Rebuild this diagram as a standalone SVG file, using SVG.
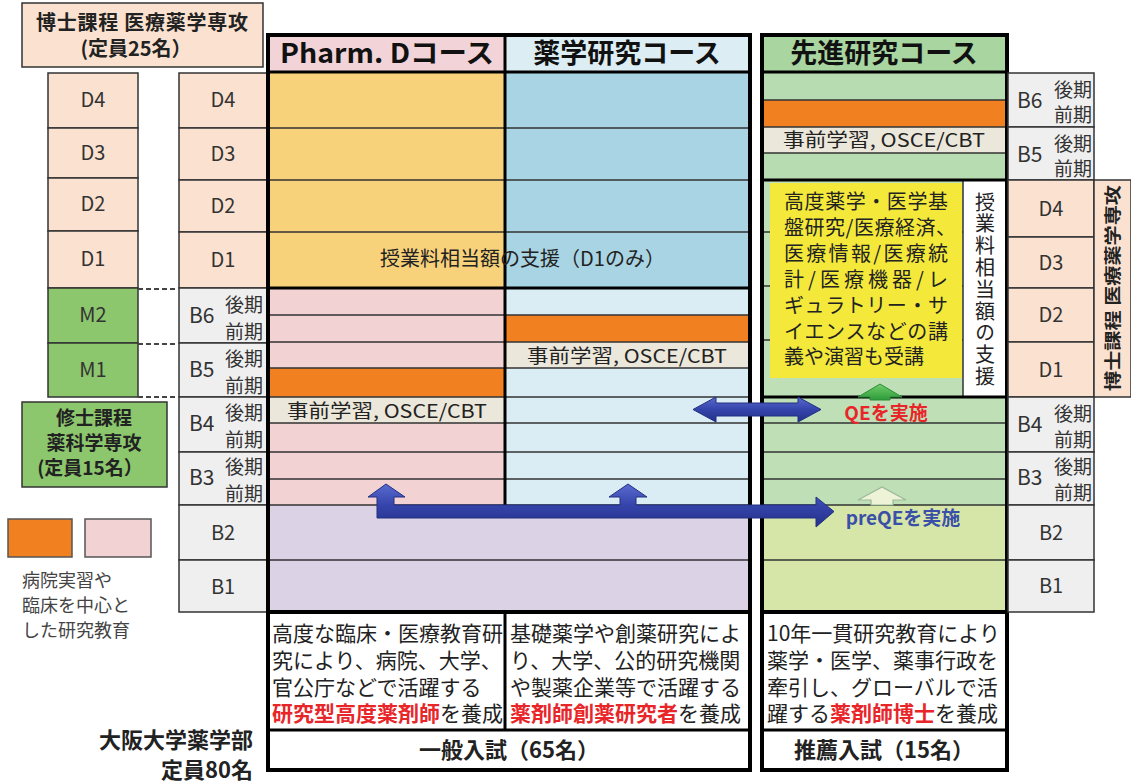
<svg xmlns="http://www.w3.org/2000/svg" width="1131" height="782" viewBox="0 0 1131 782">
<defs>
<style>
text{font-family:"Noto Sans CJK JP","Noto Sans",sans-serif;fill:#222}
.lbl{font-size:20px;fill:#333;text-anchor:middle}
.half{font-size:19px;fill:#333;text-anchor:end}
.bl{font-size:21px;fill:#333}
.hd{font-size:27px;font-weight:bold;text-anchor:middle;fill:#111}
.c{stroke:#333;stroke-width:1.5}
.ln{stroke:#333;stroke-width:1.5;fill:none}
.thick{stroke:#000;stroke-width:4;fill:none}
.mid{stroke:#000;stroke-width:3;fill:none}
.peach{fill:#fbe2d0}
.gray{fill:#efefef}
.grn{fill:#8cc66d}
.or{fill:#f08020}
.beige{fill:#ebe7da}
.pink{fill:#f2d2d2}
.lblue{fill:#dbedf4}
.gold{fill:#f8d27b}
.blue{fill:#a9d4e3}
.lav{fill:#dcd2e6}
.g1{fill:#b8dcb1}
.g2{fill:#bfe0b7}
.yg{fill:#d6e6a8}
.desc{font-size:21px;fill:#222}
.red{fill:#e8262a;font-weight:bold}
.osce{font-size:19px;fill:#222;text-anchor:middle}
.leg{font-size:18px;fill:#444}
.qe{font-size:19px;font-weight:bold;text-anchor:middle;fill:#e8262a}
.pqe{font-size:19px;font-weight:bold;text-anchor:middle;fill:#3a4fa8}
</style>
<linearGradient id="bg" x1="0" y1="0" x2="0" y2="1">
<stop offset="0" stop-color="#5a6bd0"/>
<stop offset="0.5" stop-color="#3444aa"/>
<stop offset="1" stop-color="#24318a"/>
</linearGradient>
<linearGradient id="gg" x1="0" y1="0" x2="0" y2="1">
<stop offset="0" stop-color="#6fd06a"/>
<stop offset="1" stop-color="#2e9a3a"/>
</linearGradient>
</defs>
<rect width="1131" height="782" fill="#fff"/>

<!-- top-left doctoral label -->
<g id="doctor-label">
<rect x="22" y="3" width="241" height="64" class="peach c"/>
<text x="142" y="30" text-anchor="middle" font-size="20" font-weight="bold" textLength="212" lengthAdjust="spacing">博士課程 医療薬学専攻</text>
<text x="136" y="56" text-anchor="middle" font-size="20" font-weight="bold">(定員25名）</text>
</g>

<!-- left column D/M -->
<g id="left-col">
<rect x="48" y="73" width="90" height="55" class="peach c"/>
<rect x="48" y="128" width="90" height="50" class="peach c"/>
<rect x="48" y="178" width="90" height="53" class="peach c"/>
<rect x="48" y="231" width="90" height="57" class="peach c"/>
<rect x="48" y="288" width="90" height="55" class="grn c"/>
<rect x="48" y="343" width="90" height="54" class="grn c"/>
<text x="93" y="107" class="lbl">D4</text>
<text x="93" y="160" class="lbl">D3</text>
<text x="93" y="211" class="lbl">D2</text>
<text x="93" y="266" class="lbl">D1</text>
<text x="93" y="322" class="lbl">M2</text>
<text x="93" y="377" class="lbl">M1</text>
</g>

<g id="dashes">
<path d="M138,289 H178 M138,344 H178 M138,397 H178" stroke="#444" stroke-width="2" stroke-dasharray="5,3" fill="none"/>
</g>

<g id="master-label">
<rect x="22" y="402" width="145" height="85" class="grn c"/>
<text x="94" y="425" text-anchor="middle" font-size="19" font-weight="bold">修士課程</text>
<text x="94" y="450" text-anchor="middle" font-size="19" font-weight="bold">薬科学専攻</text>
<text x="90" y="475" text-anchor="middle" font-size="19" font-weight="bold">(定員15名）</text>
</g>

<g id="legend">
<rect x="8" y="519" width="64" height="38" class="or" stroke="#555" stroke-width="1.5"/>
<rect x="85" y="519" width="66" height="38" class="pink" stroke="#555" stroke-width="1.5"/>
<text x="22" y="587" class="leg">病院実習や</text>
<text x="22" y="612" class="leg">臨床を中心と</text>
<text x="22" y="637" class="leg">した研究教育</text>
</g>

<g id="faculty-label">
<text x="253" y="748" text-anchor="end" font-size="22" font-weight="bold">大阪大学薬学部</text>
<text x="253" y="778" text-anchor="end" font-size="22" font-weight="bold">定員80名</text>
</g>

<!-- second label column -->
<g id="year-col-left">
<rect x="179" y="73" width="89" height="55" class="peach c"/>
<rect x="179" y="128" width="89" height="52" class="peach c"/>
<rect x="179" y="180" width="89" height="52" class="peach c"/>
<rect x="179" y="232" width="89" height="56" class="peach c"/>
<rect x="179" y="288" width="89" height="55" class="gray c"/>
<rect x="179" y="343" width="89" height="54" class="gray c"/>
<rect x="179" y="397" width="89" height="55" class="gray c"/>
<rect x="179" y="452" width="89" height="53" class="gray c"/>
<rect x="179" y="505" width="89" height="55" class="gray c"/>
<rect x="179" y="560" width="89" height="52" class="gray c"/>
<text x="223" y="107" class="lbl">D4</text>
<text x="223" y="161" class="lbl">D3</text>
<text x="223" y="213" class="lbl">D2</text>
<text x="223" y="267" class="lbl">D1</text>
<text x="189" y="323" class="bl">B6</text><text x="263" y="312" class="half">後期</text><text x="263" y="339" class="half">前期</text>
<text x="189" y="377" class="bl">B5</text><text x="263" y="366" class="half">後期</text><text x="263" y="393" class="half">前期</text>
<text x="189" y="431" class="bl">B4</text><text x="263" y="420" class="half">後期</text><text x="263" y="447" class="half">前期</text>
<text x="189" y="485" class="bl">B3</text><text x="263" y="474" class="half">後期</text><text x="263" y="501" class="half">前期</text>
<text x="223" y="540" class="lbl">B2</text>
<text x="223" y="594" class="lbl">B1</text>
</g>

<!-- Pharm. D course -->
<g id="pharmd">
<rect x="268" y="35" width="237" height="37" fill="#f2d3d7"/>
<rect x="268" y="72" width="237" height="216" class="gold"/>
<rect x="268" y="288" width="237" height="80" class="pink"/>
<rect x="268" y="368" width="237" height="29" class="or"/>
<rect x="268" y="397" width="237" height="26" class="beige"/>
<rect x="268" y="423" width="237" height="82" class="pink"/>
<path class="ln" d="M268,128 H505 M268,180 H505 M268,232 H505 M268,315 H505 M268,342 H505 M268,368 H505 M268,397 H505 M268,423 H505 M268,452 H505 M268,479 H505"/>
<text x="387" y="63" class="hd" textLength="214" lengthAdjust="spacingAndGlyphs">Pharm. Dコース</text>
<text x="387" y="418" class="osce" textLength="200" lengthAdjust="spacingAndGlyphs">事前学習, OSCE/CBT</text>
</g>

<!-- Research course -->
<g id="research">
<rect x="505" y="35" width="245" height="37" fill="#dcedf3"/>
<rect x="505" y="72" width="245" height="216" class="blue"/>
<rect x="505" y="288" width="245" height="27" class="lblue"/>
<rect x="505" y="315" width="245" height="27" class="or"/>
<rect x="505" y="342" width="245" height="26" class="beige"/>
<rect x="505" y="368" width="245" height="137" class="lblue"/>
<path class="ln" d="M505,128 H750 M505,180 H750 M505,232 H750 M505,315 H750 M505,342 H750 M505,368 H750 M505,397 H750 M505,423 H750 M505,452 H750 M505,479 H750"/>
<text x="627" y="63" class="hd">薬学研究コース</text>
<text x="627" y="363" class="osce" textLength="200" lengthAdjust="spacingAndGlyphs">事前学習, OSCE/CBT</text>
</g>

<g id="lower-years">
<rect x="268" y="505" width="482" height="107" class="lav"/>
<path class="ln" d="M268,505 H750 M268,560 H750"/>
</g>

<g id="main-frame">
<path class="mid" d="M268,72 H750 M268,288 H750 M505,35 V505"/>
<rect x="268" y="35" width="482" height="577" class="thick"/>
<text x="380" y="266" font-size="20" textLength="285" lengthAdjust="spacing">授業料相当額の支援（D1のみ）</text>
</g>

<g id="desc-general">
<rect x="268" y="612" width="482" height="158" fill="#fff"/>
<text x="272" y="641" class="desc">高度な臨床・医療教育研</text>
<text x="272" y="668" class="desc">究により、病院、大学、</text>
<text x="272" y="695" class="desc">官公庁などで活躍する</text>
<text x="272" y="721" class="desc"><tspan class="red">研究型高度薬剤師</tspan>を養成</text>
<text x="510" y="641" class="desc">基礎薬学や創薬研究によ</text>
<text x="510" y="668" class="desc">り、大学、公的研究機関</text>
<text x="510" y="695" class="desc">や製薬企業等で活躍する</text>
<text x="510" y="721" class="desc"><tspan class="red">薬剤師創薬研究者</tspan>を養成</text>
<text x="509" y="758" text-anchor="middle" font-size="22" font-weight="bold">一般入試（65名）</text>
<path class="mid" d="M505,612 V730 M268,730 H750"/>
<rect x="268" y="612" width="482" height="158" class="thick"/>
</g>

<!-- Advanced research course -->
<g id="advanced">
<rect x="762" y="35" width="245" height="37" fill="#a8d5a0"/>
<rect x="762" y="72" width="245" height="28" class="g1"/>
<rect x="762" y="100" width="245" height="27" class="or"/>
<rect x="762" y="127" width="245" height="26" class="beige"/>
<rect x="762" y="153" width="245" height="27" class="g1"/>
<rect x="762" y="180" width="245" height="325" class="g2"/>
<rect x="762" y="505" width="245" height="107" class="yg"/>
<path class="ln" d="M762,100 H1007 M762,127 H1007 M762,153 H1007 M762,232 H1007 M762,286 H1007 M762,340 H1007 M762,423 H1007 M762,452 H1007 M762,479 H1007 M762,505 H1007 M762,560 H1007"/>
<rect x="770" y="183" width="192" height="195" fill="#f4e93a"/>
<rect x="963" y="180" width="44" height="217" fill="#fff" stroke="#333" stroke-width="1.5"/>
<text x="884" y="63" class="hd">先進研究コース</text>
<text x="884" y="147" class="osce" textLength="202" lengthAdjust="spacingAndGlyphs">事前学習, OSCE/CBT</text>
<g font-size="20">
<text x="784" y="209" textLength="164" lengthAdjust="spacing">高度薬学・医学基</text>
<text x="784" y="235" textLength="172" lengthAdjust="spacing">盤研究/医療経済、</text>
<text x="784" y="261" textLength="164" lengthAdjust="spacing">医療情報/医療統</text>
<text x="784" y="287" textLength="164" lengthAdjust="spacing">計/医療機器/レ</text>
<text x="784" y="313" textLength="164" lengthAdjust="spacing">ギュラトリー・サ</text>
<text x="784" y="339" textLength="164" lengthAdjust="spacing">イエンスなどの講</text>
<text x="784" y="364">義や演習も受講</text>
</g>
<text x="985" y="192" font-size="20" writing-mode="vertical-rl" letter-spacing="1.8">授業料相当額の支援</text>
<path class="mid" d="M762,72 H1007 M762,180 H1007 M762,397 H1007"/>
<rect x="762" y="35" width="245" height="577" class="thick"/>
</g>

<g id="desc-advanced">
<rect x="762" y="612" width="245" height="158" fill="#fff"/>
<text x="767" y="641" class="desc">10年一貫研究教育により</text>
<text x="767" y="668" class="desc">薬学・医学、薬事行政を</text>
<text x="767" y="695" class="desc">牽引し、グローバルで活</text>
<text x="767" y="721" class="desc">躍する<tspan class="red">薬剤師博士</tspan>を養成</text>
<text x="884" y="758" text-anchor="middle" font-size="22" font-weight="bold">推薦入試（15名）</text>
<path class="mid" d="M762,730 H1007"/>
<rect x="762" y="612" width="245" height="158" class="thick"/>
</g>

<!-- right label column -->
<g id="year-col-right">
<rect x="1008" y="73" width="86" height="54" class="gray c"/>
<rect x="1008" y="127" width="86" height="53" class="gray c"/>
<rect x="1008" y="180" width="86" height="57" class="peach c"/>
<rect x="1008" y="237" width="86" height="51" class="peach c"/>
<rect x="1008" y="288" width="86" height="54" class="peach c"/>
<rect x="1008" y="342" width="86" height="55" class="peach c"/>
<rect x="1008" y="397" width="86" height="55" class="gray c"/>
<rect x="1008" y="452" width="86" height="53" class="gray c"/>
<rect x="1008" y="505" width="86" height="55" class="gray c"/>
<rect x="1008" y="560" width="86" height="52" class="gray c"/>
<text x="1017" y="108" class="bl">B6</text><text x="1092" y="97" class="half">後期</text><text x="1092" y="122" class="half">前期</text>
<text x="1017" y="162" class="bl">B5</text><text x="1092" y="151" class="half">後期</text><text x="1092" y="176" class="half">前期</text>
<text x="1051" y="216" class="lbl">D4</text>
<text x="1051" y="270" class="lbl">D3</text>
<text x="1051" y="322" class="lbl">D2</text>
<text x="1051" y="377" class="lbl">D1</text>
<text x="1017" y="432" class="bl">B4</text><text x="1092" y="421" class="half">後期</text><text x="1092" y="447" class="half">前期</text>
<text x="1017" y="485" class="bl">B3</text><text x="1092" y="474" class="half">後期</text><text x="1092" y="500" class="half">前期</text>
<text x="1051" y="540" class="lbl">B2</text>
<text x="1051" y="593" class="lbl">B1</text>
</g>

<g id="doctor-vertical">
<rect x="1094" y="180" width="37" height="217" class="peach c"/>
<text transform="translate(1119,288) rotate(-90)" text-anchor="middle" font-size="17" font-weight="bold" textLength="206" lengthAdjust="spacingAndGlyphs">博士課程 医療薬学専攻</text>
</g>

<!-- connectors -->
<g id="connectors">
<path d="M377,518 L377,497 L368,497 L386,484 L405,497 L394,497 L394,505 L620,505 L620,497 L609,497 L628,484 L647,497 L636,497 L636,505 L816,505 L816,497 L834,511.5 L816,527 L816,518 Z" fill="url(#bg)" stroke="#223080" stroke-width="1"/>
<path d="M693,409.5 L716,397 L716,403 L798,403 L798,397 L821,409.5 L798,422 L798,416 L716,416 L716,422 Z" fill="url(#bg)" stroke="#223080" stroke-width="1"/>
<path d="M858,397 L880,384 L902,397 L890,397 L890,400 L870,400 L870,397 Z" fill="url(#gg)" stroke="#2f8a3a" stroke-width="1"/>
<path d="M858,500 L882,487 L906,500 L893,500 L893,505 L871,505 L871,500 Z" fill="#eef2d6" stroke="#9bb89a" stroke-width="1.2"/>
<text x="886" y="420" class="qe">QEを実施</text>
<text x="903" y="525" class="pqe">preQEを実施</text>
</g>
</svg>
